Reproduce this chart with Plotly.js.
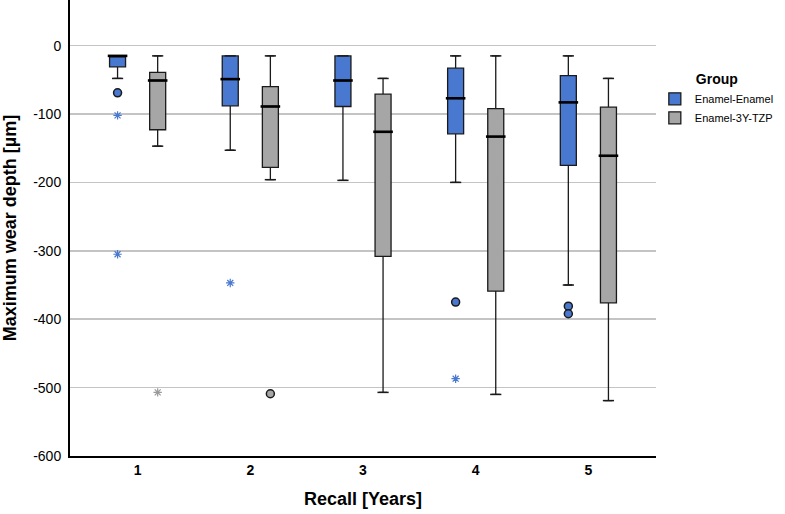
<!DOCTYPE html>
<html>
<head>
<meta charset="utf-8">
<script src="https://cdn.plot.ly/plotly-3.0.1.min.js"></script>
<style>html,body{margin:0;padding:0;background:#fff;}#chart{width:785px;height:514px;}</style>
</head>
<body>
<div id="chart"></div>
<script>
// Categories (Recall years)
const recall = ['1', '2', '3', '4', '5'];
const groups = ['Enamel-Enamel', 'Enamel-3Y-TZP'];
const yTickVals = [-600, -500, -400, -300, -200, -100, 0];
const yTickText = ['-600', '-500', '-400', '-300', '-200', '-100', '0'];

// Enamel-Enamel box statistics
const eeUpper  = [-15, -15, -15, -15, -15];
const eeQ3     = [-15, -15, -15, -33, -44];
const eeMedian = [-15, -49, -51, -77, -83];
const eeQ1     = [-31, -88, -89, -129, -175];
const eeLower  = [-48, -153, -197, -200, -350];
// Enamel-Enamel outliers (circles) and extremes (stars)
const eeOutCat  = ['1', '4', '5', '5'];
const eeOutVal  = [-69, -375, -381, -392];
const eeExtCat  = ['1', '1', '2', '4'];
const eeExtVal  = [-102, -305, -347, -487];

// Enamel-3Y-TZP box statistics
const zrUpper  = [-15, -15, -48, -15, -48];
const zrQ3     = [-39, -60, -71, -92, -90];
const zrMedian = [-51, -89, -126, -133, -161];
const zrQ1     = [-123, -178, -308, -359, -376];
const zrLower  = [-147, -196, -507, -510, -519];
// Enamel-3Y-TZP outliers and extremes
const zrOutCat = ['2'];
const zrOutVal = [-509];
const zrExtCat = ['1'];
const zrExtVal = [-507];

// Styling
const blue = '#4878D0';
const gray = '#A6A6A6';
const offset = 0.178;
const bw = 0.142;

function pos(cat, off) { return recall.indexOf(cat) + 1 + off; }
const posEE = recall.map(c => pos(c, -offset));
const posZR = recall.map(c => pos(c, offset));

const traces = [];
function addGroup(name, color, xs, up, q3, med, q1, lo, outCat, outVal, extCat, extVal, off, extColor) {
  traces.push({
    type: 'box', name: name, x: xs,
    q1: q1, median: med, q3: q3, lowerfence: lo, upperfence: up,
    width: bw, fillcolor: color,
    line: {color: '#1a1a1a', width: 1.3},
    boxpoints: false, hoverinfo: 'none', showlegend: true
  });
  // whisker caps
  traces.push({
    type: 'scatter', mode: 'markers', showlegend: false, hoverinfo: 'none',
    x: xs.concat(xs), y: up.concat(lo),
    marker: {symbol: 'line-ew', size: 8, line: {color: '#1a1a1a', width: 1.5}}
  });
  // thick medians
  traces.push({
    type: 'scatter', mode: 'markers', showlegend: false, hoverinfo: 'none',
    x: xs, y: med,
    marker: {symbol: 'line-ew', size: 14, line: {color: '#000', width: 2.6}}
  });
  // outliers
  traces.push({
    type: 'scatter', mode: 'markers', showlegend: false, hoverinfo: 'none',
    x: outCat.map(c => pos(c, off)), y: outVal,
    marker: {symbol: 'circle', size: 8, color: color, line: {color: '#1a1a1a', width: 1.5}}
  });
  // extremes
  traces.push({
    type: 'scatter', mode: 'markers', showlegend: false, hoverinfo: 'none',
    x: extCat.map(c => pos(c, off)), y: extVal,
    marker: {symbol: 'asterisk-open', size: 7, color: extColor, line: {color: extColor, width: 1.2}}
  });
}
addGroup(groups[0], blue, posEE, eeUpper, eeQ3, eeMedian, eeQ1, eeLower, eeOutCat, eeOutVal, eeExtCat, eeExtVal, -offset, blue);
addGroup(groups[1], gray, posZR, zrUpper, zrQ3, zrMedian, zrQ1, zrLower, zrOutCat, zrOutVal, zrExtCat, zrExtVal, offset, '#9a9a9a');

const layout = {
  width: 785, height: 514,
  margin: {l: 70, r: 129, t: 0, b: 58, autoexpand: false},
  paper_bgcolor: '#fff', plot_bgcolor: '#fff',
  font: {family: 'Liberation Sans, Arial, sans-serif', color: '#000'},
  showlegend: true,
  legend: {
    x: 0.998, xanchor: 'left', y: 0.855, yanchor: 'top',
    title: {text: '<b>Group</b>', side: 'top center', font: {size: 14}},
    font: {size: 11}, itemwidth: 30, tracegroupgap: 0,
    bgcolor: 'rgba(0,0,0,0)'
  },
  xaxis: {
    range: [0.4, 5.6], tickvals: recall.map((c, i) => i + 1), ticktext: recall,
    showgrid: false, zeroline: false, showline: true, linecolor: '#000', linewidth: 2,
    ticks: '', tickfont: {size: 14, family: 'Liberation Sans, Arial, sans-serif', weight: 'bold'},
    title: {text: '<b>Recall [Years]</b>', font: {size: 18}, standoff: 16}
  },
  yaxis: {
    range: [-600, 66.7], tickvals: yTickVals, ticktext: yTickText,
    showgrid: true, gridcolor: '#c4c4c4', gridwidth: 1.5, zeroline: false,
    showline: true, linecolor: '#000', linewidth: 2, ticks: '',
    tickfont: {size: 14}, ticklabelstandoff: 4,
    title: {text: '<b>Maximum wear depth [µm]</b>', font: {size: 18}, standoff: 12}
  }
};

Plotly.newPlot('chart', traces, layout, {displayModeBar: false, staticPlot: true});
</script>
</body>
</html>
